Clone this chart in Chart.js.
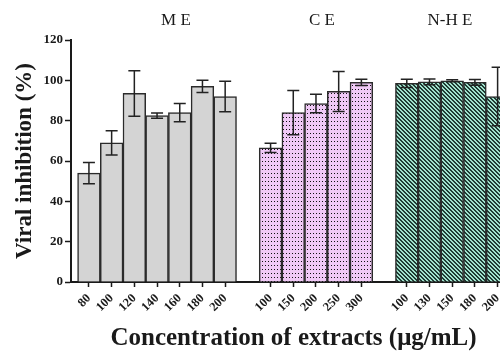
<!DOCTYPE html>
<html>
<head>
<meta charset="utf-8">
<script src="https://cdn.jsdelivr.net/npm/chart.js@4"></script>
<style>
    html, body { margin: 0; padding: 0; background: #fff; overflow: hidden; width: 500px; height: 352px; }
    #wrap { width: 520px; height: 352px; }
</style>
</head>
<body>
<div id="wrap"><canvas id="chart" width="520" height="352"></canvas></div>
<script>
// datos
const groupNames = ['M E', 'C E', 'N-H E'];

const meDoses = ['80', '100', '120', '140', '160', '180', '200'];
const meMeans = [54, 69, 93.5, 82.5, 84, 97, 92];
const meErr   = [5.3, 6, 11.3, 1.3, 4.5, 3, 7.6];

const ceDoses = ['100', '150', '200', '250', '300'];
const ceMeans = [66.5, 84, 88.5, 94.5, 99];
const ceErr   = [2.3, 11, 4.6, 9.9, 1.5];

const nheDoses = ['100', '130', '150', '180', '200'];
const nheMeans = [98.5, 99.2, 99.8, 99, 92];
const nheErr   = [2, 1.4, 0.5, 1.4, 14.5];

const yTicks = [0, 20, 40, 60, 80, 100, 120];

const SERIF = '"Liberation Serif", "Times New Roman", serif';
const INK = '#1a1a1a';

// ===============================
// patrones de relleno
// ===============================
function makePattern(w, h, bg, draw) {
    const c = document.createElement('canvas');
    c.width = w; c.height = h;
    const g = c.getContext('2d');
    g.fillStyle = bg;
    g.fillRect(0, 0, w, h);
    draw(g);
    return g.createPattern(c, 'repeat');
}

const dots = makePattern(3, 4, '#f0c9f6', g => {
    g.fillStyle = '#111';
    g.fillRect(1, 1, 1, 1);
});

const stripes = makePattern(4, 4, '#a2e2cd', g => {
    g.fillStyle = '#1f3b33';
    for (let r = 0; r < 4; r++) {
        g.fillRect(r % 4, r, 1, 1);
        g.fillRect((r + 1) % 4, r, 1, 1);
    }
});

// ===============================
// grupos -> posiciones en el eje x (un hueco entre grupos)
// ===============================
const groups = [
    { doses: meDoses, means: meMeans, err: meErr, fill: '#d4d4d4' },
    { doses: ceDoses, means: ceMeans, err: ceErr, fill: dots },
    { doses: nheDoses, means: nheMeans, err: nheErr, fill: stripes }
];

let start = 0;
const tickPos = [];
const tickText = [];
groups.forEach(gr => {
    gr.start = start;
    gr.doses.forEach((d, i) => {
        tickPos.push(start + i);
        tickText.push(d);
    });
    start += gr.doses.length + 1;
});

const datasets = groups.map((gr, k) => ({
    label: groupNames[k],
    data: gr.means.map((v, i) => ({ x: gr.start + i, y: v })),
    errors: gr.err,
    backgroundColor: gr.fill,
    borderColor: '#2b2b2b',
    borderWidth: 1.5,
    barPercentage: 1,
    categoryPercentage: 1,
    grouped: false
}));

// barras de error
const errorBars = {
    id: 'errorBars',
    afterDatasetsDraw(chart) {
        const ctx = chart.ctx;
        const y = chart.scales.y;
        ctx.save();
        ctx.strokeStyle = '#222';
        ctx.lineWidth = 1.5;
        chart.data.datasets.forEach((ds, i) => {
            const meta = chart.getDatasetMeta(i);
            meta.data.forEach((bar, j) => {
                const m = ds.data[j].y, e = ds.errors[j];
                const yt = y.getPixelForValue(m + e);
                const yb = y.getPixelForValue(m - e);
                ctx.beginPath();
                ctx.moveTo(bar.x, yt); ctx.lineTo(bar.x, yb);
                ctx.moveTo(bar.x - 6, yt); ctx.lineTo(bar.x + 6, yt);
                ctx.moveTo(bar.x - 6, yb); ctx.lineTo(bar.x + 6, yb);
                ctx.stroke();
            });
        });
        ctx.restore();
    }
};

// nombres de los extractos encima de cada grupo
const groupTitles = {
    id: 'groupTitles',
    afterDraw(chart, args, opts) {
        const ctx = chart.ctx;
        const x = chart.scales.x;
        ctx.save();
        ctx.font = '17px ' + SERIF;
        ctx.fillStyle = INK;
        ctx.textAlign = 'center';
        ctx.textBaseline = 'middle';
        groups.forEach((gr, k) => {
            const mid = gr.start + (gr.doses.length - 1) / 2 + opts.shift[k];
            ctx.fillText(groupNames[k], x.getPixelForValue(mid), 21);
        });
        ctx.restore();
    }
};

new Chart(document.getElementById('chart'), {
    type: 'bar',
    data: { datasets },
    plugins: [errorBars, groupTitles],
    options: {
        responsive: false,
        animation: false,
        layout: { padding: { top: 40, right: 4, left: 0, bottom: 0 } },
        plugins: {
            legend: { display: false },
            tooltip: { enabled: false },
            groupTitles: { shift: [0.83, 0.26, -0.1] }
        },
        scales: {
            x: {
                type: 'linear',
                min: -0.79,
                max: 18.81,
                offset: false,
                afterBuildTicks: s => { s.ticks = tickPos.map(v => ({ value: v })); },
                afterFit: s => { s.height = 70; },
                ticks: {
                    autoSkip: false,
                    minRotation: 45,
                    maxRotation: 45,
                    padding: 4,
                    color: INK,
                    font: { family: SERIF, size: 12.5, weight: 'bold' },
                    callback: (v, i) => tickText[i]
                },
                grid: { offset: false, drawOnChartArea: false, tickLength: 5, tickWidth: 1.5, tickColor: INK },
                border: { color: INK, width: 2 },
                title: {
                    display: true,
                    text: 'Concentration of extracts (μg/mL)',
                    color: INK,
                    font: { family: SERIF, size: 25, weight: 'bold', lineHeight: 1.1 },
                    padding: 0
                }
            },
            y: {
                min: 0,
                max: 120,
                afterBuildTicks: s => { s.ticks = yTicks.map(v => ({ value: v })); },
                afterFit: s => { s.width = 71; },
                ticks: {
                    padding: 2,
                    color: INK,
                    font: { family: SERIF, size: 13, weight: 'bold' }
                },
                grid: { drawOnChartArea: false, tickLength: 6, tickWidth: 1.5, tickColor: INK },
                border: { color: INK, width: 2 },
                title: {
                    display: true,
                    text: 'Viral inhibition (%)',
                    color: INK,
                    font: { family: SERIF, size: 23, weight: 'bold', lineHeight: 1.2 },
                    padding: { top: 11, bottom: 0 }
                }
            }
        }
    }
});
</script>
</body>
</html>
